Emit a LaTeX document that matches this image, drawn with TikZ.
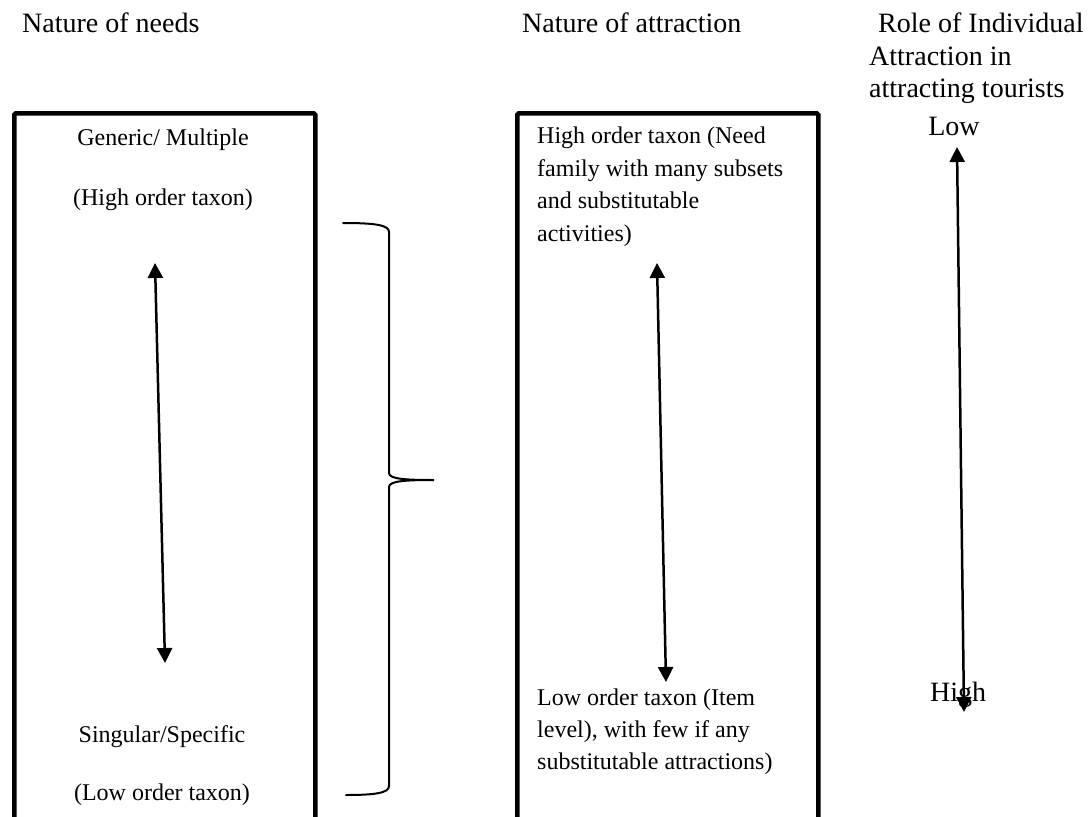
\documentclass[tikz,border=0pt]{standalone}
\usepackage{fontspec}
\setmainfont{Liberation Serif}
\usetikzlibrary{arrows.meta}
\begin{document}
\begin{tikzpicture}[x=1pt,y=-1pt,
  hdr/.style={font=\fontsize{28}{32}\selectfont, inner sep=0pt},
  body/.style={font=\fontsize{24}{32}\selectfont, inner sep=0pt},
  panel/.style={draw, line width=4.5pt, rounded corners=1.5pt, inner sep=0pt, anchor=north west},
  dbl/.style={line width=2.5pt, {Triangle[width=15pt,length=15pt]}-{Triangle[width=15pt,length=15pt]}},
  bracepath/.style={line width=2pt, line cap=round}]
\clip (0,0) rectangle (1091,816);
\fill[white] (0,0) rectangle (1091,816);

% headers
\node[hdr, anchor=base west] (h1) at (22,33) {Nature of needs};
\node[hdr, anchor=base west] (h2) at (522,33) {Nature of attraction};
\node[hdr, anchor=base west] (h3a) at (878,33) {Role of Individual};
\node[hdr, anchor=base west] (h3b) at (869,65) {Attraction in};
\node[hdr, anchor=base west] (h3c) at (869,97) {attracting tourists};

% panels
\node[panel, minimum width=301pt, minimum height=740pt] (needbox) at (12,111) {};
\node[panel, minimum width=301pt, minimum height=740pt] (attrbox) at (515,111) {};

% left panel texts
\node[body, anchor=base] (gen) at (163,145) {Generic/ Multiple};
\node[body, anchor=base] (hot) at (163,205) {(High order taxon)};
\node[body, anchor=base] (sing) at (162,742) {Singular/Specific};
\node[body, anchor=base] (lot) at (162,800) {(Low order taxon)};

% middle panel texts
\node[body, anchor=base west] (m1) at (537,143) {High order taxon (Need};
\node[body, anchor=base west] (m2) at (537,176) {family with many subsets};
\node[body, anchor=base west] (m3) at (537,208) {and substitutable};
\node[body, anchor=base west] (m4) at (537,241) {activities)};
\node[body, anchor=base west] (n1) at (537,705) {Low order taxon (Item};
\node[body, anchor=base west] (n2) at (537,737) {level), with few if any};
\node[body, anchor=base west] (n3) at (537,769) {substitutable attractions)};

% right column labels
\node[hdr, anchor=base] (low) at (954,135) {Low};
\node[hdr, anchor=base west] (high) at (930,701) {High};

% arrow end points
\coordinate (a1t) at (155,263);
\coordinate (a1b) at (165,663);
\coordinate (a2t) at (657,263);
\coordinate (a2b) at (666,682);
\coordinate (a3t) at (957,147);
\coordinate (a3b) at (964,712);

\draw[dbl] (a1t) -- (a1b);
\draw[dbl] (a2t) -- (a2b);
\draw[dbl] (a3t) -- (a3b);

% brace
\coordinate (bt) at (343,223);
\coordinate (bm) at (434,480);
\coordinate (bb) at (346,795);
\draw[bracepath] (bt) .. controls (375,223) and (389,225) .. (389,232)
  -- (389,473) .. controls (389,479) and (405,480) .. (bm)
  .. controls (405,480) and (389,481) .. (389,487)
  -- (389,786) .. controls (389,793) and (375,795) .. (bb);
\end{tikzpicture}
\end{document}
